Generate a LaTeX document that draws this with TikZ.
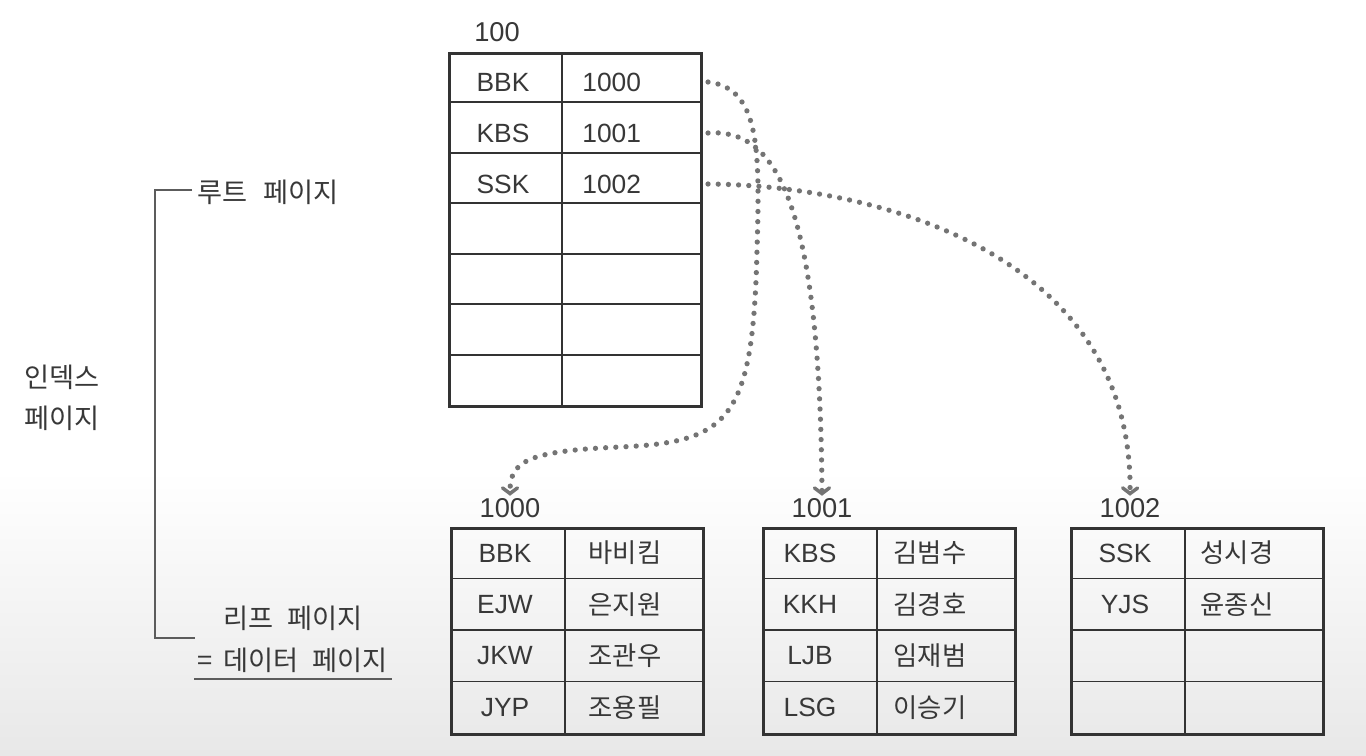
\documentclass[tikz,border=0pt]{standalone}
\usepackage{fontspec}
\setmainfont{Liberation Sans}
\newfontfamily\kr{Noto Sans CJK KR}
\usepackage{tikz}
\usetikzlibrary{arrows.meta,positioning,calc}

\definecolor{linec}{HTML}{333333}
\definecolor{textc}{HTML}{383838}
\definecolor{dotc}{HTML}{747474}

\tikzset{
  page/.style={draw=linec,line width=1.6pt,minimum width=5.04cm,inner sep=0pt,anchor=north west},
  rowline/.style={draw=linec,line width=1.1pt},
  cellt/.style={text=textc,font=\fontsize{15}{18}\selectfont,inner sep=0pt},
  namet/.style={text=textc,font=\kr\fontsize{15}{18}\selectfont,inner sep=0pt},
  pagelabel/.style={text=textc,font=\fontsize{15.5}{18}\selectfont,inner sep=1.5pt,anchor=south},
  note/.style={text=textc,font=\kr\fontsize{15.5}{19}\selectfont,inner sep=0pt},
  link/.style={dotc,line width=3pt,line cap=round,dash pattern=on 0pt off 5.8pt,
    -{Straight Barb[length=3.2pt,width=8.5pt,line width=2pt,line cap=round]}},
}

\begin{document}
\begin{tikzpicture}[x=0.02cm,y=-0.02cm]
  \useasboundingbox (0,0) rectangle (1366,755);
  \fill[white] (0,0) rectangle (1366,755);
  \shade[top color=white,bottom color=black!9] (0,470) rectangle (1366,755);

  % root page
  \node[pagelabel] (l100) at (497,45) {100};
  \node[page,minimum height=7.06cm] (root) at (448,52) {};
  \foreach \k in {1,...,6}
    \draw[rowline] (448,{52+\k*50.43}) -- (700,{52+\k*50.43});
  \draw[rowline] (562,52) -- (562,405);
  \foreach \kk/\vv [count=\i] in {BBK/1000,KBS/1001,SSK/1002} {
    \node[cellt] (rk\i) at (503,{82+(\i-1)*51}) {\kk};
    \node[cellt,anchor=west] (rv\i) at (582,{82+(\i-1)*51}) {\vv};
  }

  % leaf pages
  \foreach \nm/\x in {1000/450,1001/762,1002/1070} {
    \node[page,minimum height=4.12cm] (p\nm) at (\x,527) {};
    \node[pagelabel] (l\nm) at ({\x+60},521) {\nm};
    \foreach \k in {1,2,3}
      \draw[rowline] (\x,{527+\k*51.5}) -- ({\x+252},{527+\k*51.5});
    \draw[rowline] ({\x+115},527) -- ({\x+115},733);
  }
  \foreach \kk/\vv [count=\i] in {BBK/바비킴,EJW/은지원,JKW/조관우,JYP/조용필} {
    \node[cellt] (a\i) at (505,{553+(\i-1)*51.5}) {\kk};
    \node[namet] (an\i) at (625,{553+(\i-1)*51.5}) {\vv};
  }
  \foreach \kk/\vv [count=\i] in {KBS/김범수,KKH/김경호,LJB/임재범,LSG/이승기} {
    \node[cellt] (b\i) at (810,{553+(\i-1)*51.5}) {\kk};
    \node[namet] (bn\i) at (930,{553+(\i-1)*51.5}) {\vv};
  }
  \foreach \kk/\vv [count=\i] in {SSK/성시경,YJS/윤종신} {
    \node[cellt] (c\i) at (1125,{553+(\i-1)*51.5}) {\kk};
    \node[namet] (cn\i) at (1237,{553+(\i-1)*51.5}) {\vv};
  }

  % pointers
  \coordinate (s1) at ([xshift=3pt]root.east |- rv1);
  \coordinate (s2) at ([xshift=3pt]root.east |- rv2);
  \coordinate (s3) at ([xshift=3pt]root.east |- rv3);
  \draw[link] (s1) .. controls (760,88) and (760,150) .. (757,250)
    .. controls (753,420) and (730,442) .. (620,447)
    .. controls (525,451) and (510,462) .. (l1000.north);
  \draw[link] (s2) .. controls (775,128) and (820,200) .. (l1001.north);
  \draw[link] (s3) .. controls (870,185) and (1133,250) .. (l1002.north);

  % side notes
  \node[note] (rootnote) at (268,192) {루트\hspace{9pt}페이지};
  \node[note,anchor=west,align=left] (idxnote) at (24,398) {인덱스\\[4pt]페이지};
  \node[note,align=center] (leafnote) at (293,639) {리프\hspace{8pt}페이지\\[5pt]=\hspace{6pt}데이터\hspace{8pt}페이지};
  \draw[linec!80,line width=1.6pt] (192,190) -- (155,190) -- (155,638) -- (195,638);
  \draw[linec!80,line width=1.6pt] ([xshift=-2pt,yshift=-3.5pt]leafnote.south west) -- ([xshift=2pt,yshift=-3.5pt]leafnote.south east);
\end{tikzpicture}
\end{document}
